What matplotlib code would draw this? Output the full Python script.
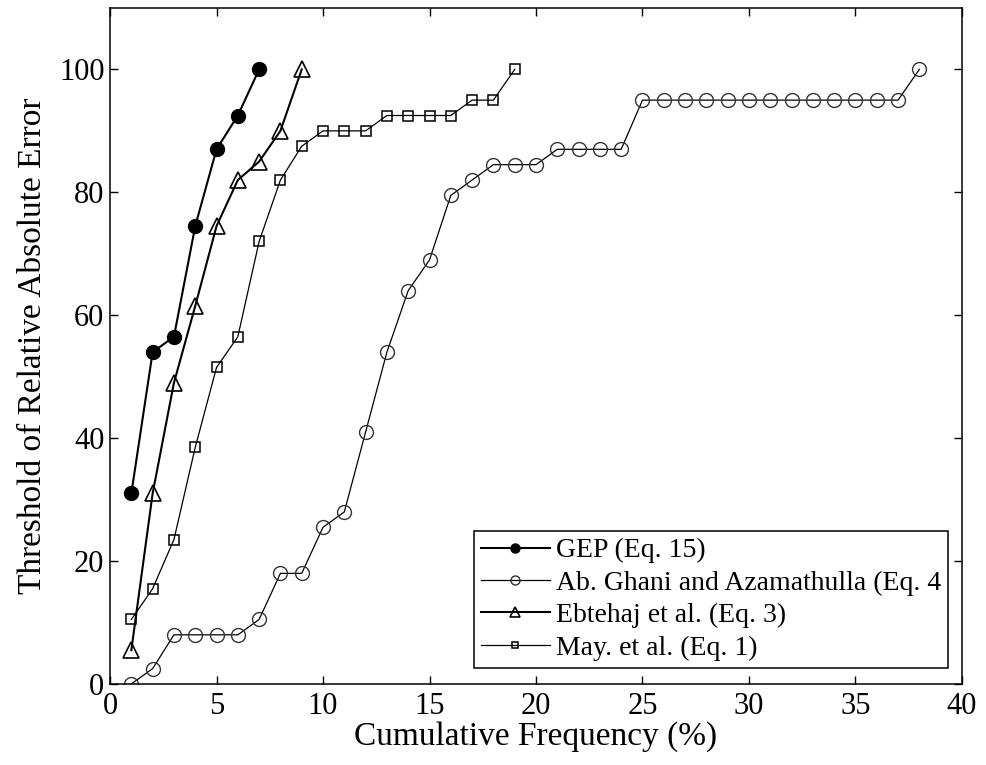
import numpy as np
import matplotlib.pyplot as plt

plt.rcParams['font.family'] = ['Liberation Serif', 'DejaVu Serif']

# cumulative frequency (%) vs threshold of relative absolute error
gep_x = [1, 2, 3, 4, 5, 6, 7]
gep_y = [31, 54, 56.5, 74.5, 87, 92.5, 100]

ebt_x = [1, 2, 3, 4, 5, 6, 7, 8, 9]
ebt_y = [5.5, 31, 49, 61.5, 74.5, 82, 85, 90, 100]

may_x = list(range(1, 20))
may_y = [10.5, 15.5, 23.5, 38.5, 51.5, 56.5, 72, 82, 87.5, 90, 90, 90,
         92.5, 92.5, 92.5, 92.5, 95, 95, 100]

ghani_x = list(range(1, 39))
ghani_y = [0, 2.5, 8, 8, 8, 8, 10.5, 18, 18, 25.5, 28, 41, 54, 64, 69, 79.5,
           82, 84.5, 84.5, 84.5, 87, 87, 87, 87,
           95, 95, 95, 95, 95, 95, 95, 95, 95, 95, 95, 95, 95, 100]

labels = ['GEP (Eq. 15)', 'Ab. Ghani and Azamathulla (Eq. 4',
          'Ebtehaj et al. (Eq. 3)', 'May. et al. (Eq. 1)']

fig = plt.figure(figsize=(9.86, 7.65), dpi=100)
ax = fig.add_axes([0.1116, 0.1059, 0.864, 0.8837])

ax.plot(gep_x, gep_y, '-o', color='black', lw=1.5, ms=10,
        mfc='black', mec='black', label=labels[0])
ax.plot(ghani_x, ghani_y, '-o', color='black', lw=0.9, ms=10,
        mfc='none', mec='#333333', mew=1.0, label=labels[1])
ax.plot(ebt_x, ebt_y, '-^', color='black', lw=1.5, ms=11,
        mfc='none', mec='black', mew=1.2, label=labels[2])
ax.plot(may_x, may_y, '-s', color='black', lw=0.9, ms=7.5,
        mfc='none', mec='black', mew=1.1, label=labels[3])

ax.set_xlim(0, 40)
ax.set_ylim(0, 110)
ax.set_xticks(np.arange(0, 41, 5))
ax.set_yticks(np.arange(0, 101, 20))
ax.tick_params(direction='in', length=6, width=1, labelsize=22,
               top=True, right=True)
ax.tick_params(axis='x', pad=6)
ax.tick_params(axis='y', pad=4)
for s in ax.spines.values():
    s.set_linewidth(1.1)

ax.set_xlabel('Cumulative Frequency (%)', fontsize=24, labelpad=0)
ax.set_ylabel('Threshold of Relative Absolute Error', fontsize=24, labelpad=8)

leg = ax.legend(loc='lower right', fontsize=20, markerscale=0.65,
                handlelength=2.5, handletextpad=0.2, labelspacing=0.25,
                borderpad=0.25, borderaxespad=0.3, fancybox=False,
                edgecolor='black', framealpha=1,
                bbox_to_anchor=(0.993, 0.012))
leg.get_frame().set_linewidth(1.1)

fig.savefig('out.png', dpi=100)
